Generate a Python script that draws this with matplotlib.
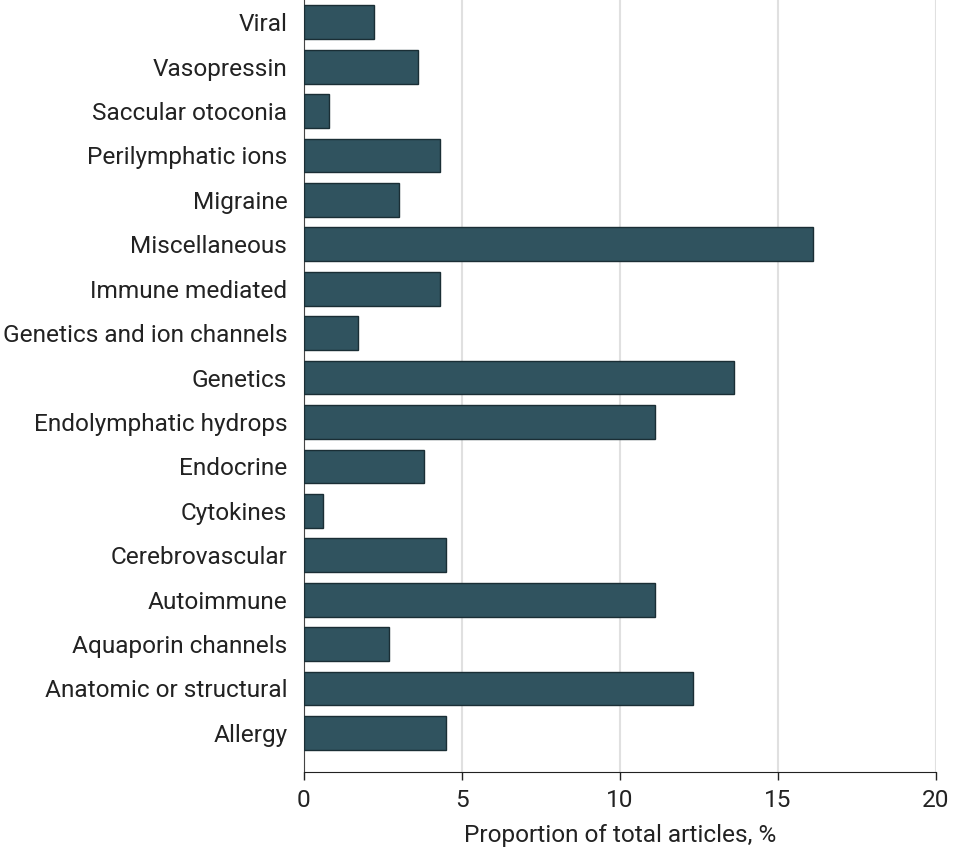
import matplotlib
matplotlib.use("Agg")
import matplotlib.pyplot as plt
from matplotlib import font_manager

categories = ["Allergy", "Anatomic or structural", "Aquaporin channels", "Autoimmune",
              "Cerebrovascular", "Cytokines", "Endocrine", "Endolymphatic hydrops",
              "Genetics", "Genetics and ion channels", "Immune mediated", "Miscellaneous",
              "Migraine", "Perilymphatic ions", "Saccular otoconia", "Vasopressin", "Viral"]
values = [4.5, 12.3, 2.7, 11.1, 4.5, 0.6, 3.8, 11.1, 13.6, 1.7, 4.3, 16.1,
          3.0, 4.3, 0.8, 3.6, 2.2]
xticks = [0, 5, 10, 15, 20]
xlabel = "Proportion of total articles, %"

plt.rcParams['font.family'] = ["Roboto", "DejaVu Sans"]
fs = 17.6

fig = plt.figure(figsize=(9.54, 8.58), dpi=100)
ax = fig.add_axes([304/954, 86/858, 632/954, 772/858])
y = list(range(len(categories)))
ax.barh(y, values, height=0.76, color="#30535f", edgecolor="#1a2e35", linewidth=1, zorder=3)
ax.set_xlim(0, 20)
ax.set_ylim(-0.88, 16.5)
ax.set_yticks(y)
ax.set_yticklabels(categories, fontsize=fs, color="#222222")
ax.set_xticks(xticks)
ax.set_xticklabels([str(t) for t in xticks], fontsize=fs, color="#222222")
ax.set_xlabel(xlabel, fontsize=fs, color="#222222", labelpad=9)
ax.xaxis.grid(True, color="#e0e0e0", linewidth=1.5, zorder=0)
ax.tick_params(axis="y", length=0, pad=12)
ax.tick_params(axis="x", length=6, width=1, color="#222222", pad=6)
for s in ["top", "right"]:
    ax.spines[s].set_visible(False)
ax.spines["left"].set_color("#444444")
ax.spines["bottom"].set_color("#222222")
ax.set_axisbelow(True)
fig.savefig("out.png", dpi=100)
